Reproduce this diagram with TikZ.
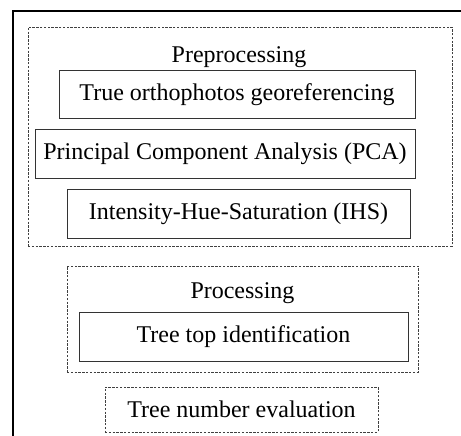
\documentclass[tikz,border=0pt]{standalone}
\usepackage{fontspec}
\setmainfont{Liberation Serif}
\begin{document}
\begin{tikzpicture}[x=1pt,y=1pt,
  txt/.style={font=\fontsize{24}{28}\selectfont, inner sep=0pt},
  solidbox/.style={txt, draw=black!80, line width=1pt, rectangle},
  dotbox/.style={draw=black!75, line width=0.9pt, dash pattern=on 2.4pt off 1.4pt, rectangle, inner sep=0pt},
  frameline/.style={draw=black, line width=2pt}
]
\useasboundingbox (0,0) rectangle (461,-436);
% outer frame (top and left edges)
\coordinate (ftr) at (461,-11);
\coordinate (ftl) at (13,-11);
\coordinate (fbl) at (13,-436);
\draw[frameline] (ftr) -- (ftl) -- (fbl);
% preprocessing group
\node[dotbox, minimum width=424, minimum height=219] (pre) at (240,-136.5) {};
\node[txt, anchor=base] (pretitle) at (239,-63) {Preprocessing};
\node[solidbox, minimum width=356, minimum height=48] (ortho) at (237,-95) {True orthophotos georeferencing};
\node[solidbox, minimum width=380, minimum height=49] (pca) at (225,-153.5) {Principal Component Analysis (PCA)};
\node[solidbox, minimum width=343, minimum height=49] (ihs) at (238.5,-213.5) {Intensity-Hue-Saturation (IHS)};
% processing group
\node[dotbox, minimum width=351, minimum height=106] (proc) at (242.5,-319) {};
\node[txt, anchor=base] (proctitle) at (242.5,-298) {Processing};
\node[solidbox, minimum width=329, minimum height=49] (tree) at (243.5,-336.5) {Tree top identification};
% evaluation
\node[dotbox, txt, minimum width=273, minimum height=45] (eval) at (241.5,-409.5) {Tree number evaluation};
\end{tikzpicture}
\end{document}
